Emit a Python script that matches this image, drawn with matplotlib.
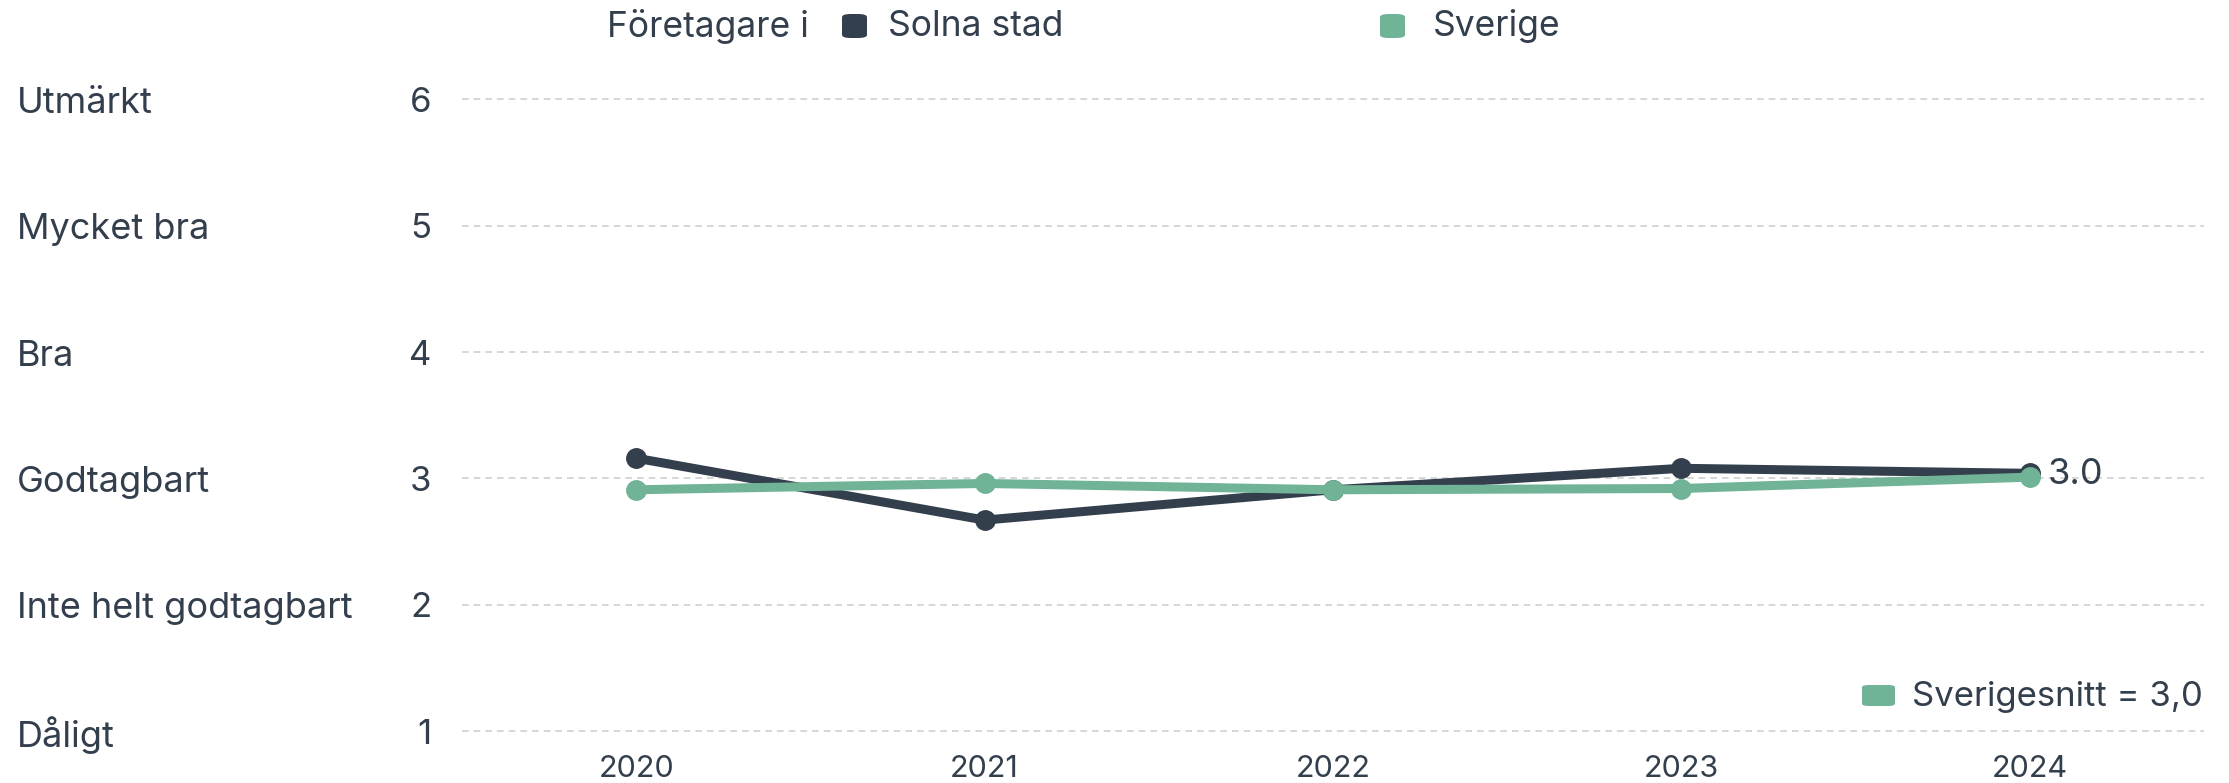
import matplotlib.pyplot as plt
from matplotlib.patches import FancyBboxPatch
from matplotlib.transforms import blended_transform_factory, offset_copy

plt.rcParams['font.family'] = ['Inter', 'DejaVu Sans']

# Data
years = [2020, 2021, 2022, 2023, 2024]
solna = [3.16, 2.67, 2.91, 3.08, 3.04]
sverige = [2.91, 2.96, 2.91, 2.92, 3.01]
levels = [1, 2, 3, 4, 5, 6]
level_names = ['Dåligt', 'Inte helt godtagbart', 'Godtagbart', 'Bra', 'Mycket bra', 'Utmärkt']
series_names = ['Solna stad', 'Sverige']
snitt_label = 'Sverigesnitt = 3,0'
end_label = '3.0'

dark = '#333f4c'
green = '#71b397'
txt = '#333f4c'

W, H = 2229, 783
fig = plt.figure(figsize=(W / 100, H / 100), dpi=100)
ax = fig.add_axes([462 / W, 1 - 731 / H, (2204 - 462) / W, (731 - 99.5) / H])

ax.set_xlim(2019.5, 2024.5)
ax.set_ylim(1, 6)

for lv in levels:
    ax.axhline(lv, color='#cfcfcf', lw=1.2, ls=(0, (4, 3)), zorder=0, clip_on=False)

ax.plot(years, solna, color=dark, lw=6.5, marker='o', ms=14, zorder=3, clip_on=False)
ax.plot(years, sverige, color=green, lw=6.5, marker='o', ms=14, zorder=4, clip_on=False)

ax.annotate(end_label, (years[-1], solna[-1]), xytext=(13, -1), textcoords='offset points',
            va='center', ha='left', fontsize=26, color=dark, zorder=5)

for s in ax.spines.values():
    s.set_visible(False)
ax.set_xticks(years)
ax.set_xticklabels([str(y) for y in years])
ax.tick_params(axis='x', length=0, pad=17, labelsize=22, labelcolor=txt)
ax.set_yticks(levels)
ax.set_yticklabels([str(v) for v in levels])
ax.tick_params(axis='y', length=0, pad=22, labelsize=25, labelcolor=txt)

tr = offset_copy(blended_transform_factory(fig.transFigure, ax.transData), fig=fig, y=-4, units='dots')
for lv, name in zip(levels, level_names):
    fig.text(17 / W, lv, name, transform=tr, ha='left', va='center', fontsize=26, color=txt)

# top legend
fig.text(607 / W, 1 - 26 / H, 'Företagare i', ha='left', va='center', fontsize=25.5, color=txt)
for x0, gap, col, name in [(842, 46, dark, series_names[0]), (1380, 53, green, series_names[1])]:
    fig.patches.append(FancyBboxPatch((x0 / W, 1 - 38 / H), 25 / W, 24 / H,
                                      boxstyle='round,pad=0,rounding_size=0.004',
                                      transform=fig.transFigure, fc=col, ec='none'))
    fig.text((x0 + gap) / W, 1 - 26 / H, name, ha='left', va='center', fontsize=25.5, color=txt)

# bottom-right legend
fig.patches.append(FancyBboxPatch((1862 / W, 1 - 706 / H), 33 / W, 21 / H,
                                  boxstyle='round,pad=0,rounding_size=0.003',
                                  transform=fig.transFigure, fc=green, ec='none'))
fig.text(2203 / W, 1 - 697 / H, snitt_label, ha='right', va='center', fontsize=25, color=txt)

fig.savefig('out.png', dpi=100, facecolor='white')
